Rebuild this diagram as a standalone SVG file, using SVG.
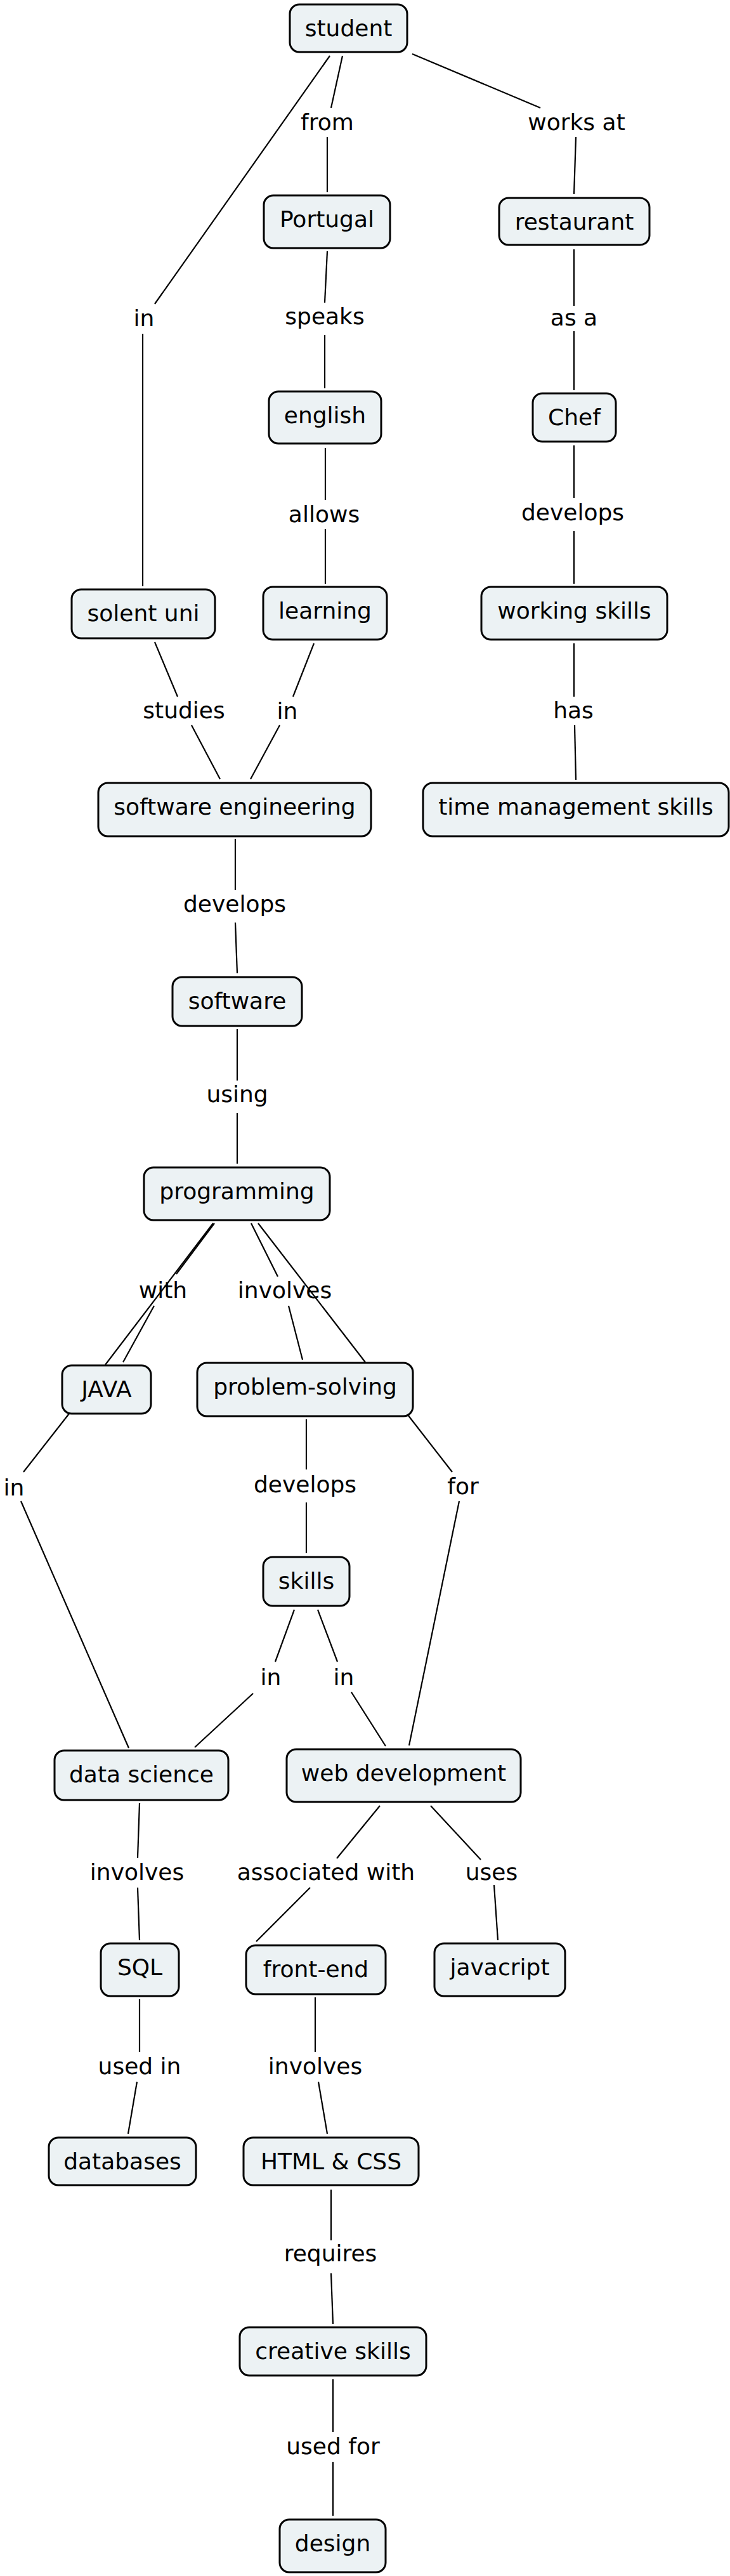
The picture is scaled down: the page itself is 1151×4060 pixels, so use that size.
<svg xmlns="http://www.w3.org/2000/svg" width="1151" height="4060" viewBox="0 0 1151 4060">
<style>
.n rect{fill:#ecf2f4;stroke:#000;stroke-width:3}
text{font-family:"DejaVu Sans","Verdana",sans-serif;font-size:36px;fill:#000;text-anchor:middle}
#connectors line{stroke:#000;stroke-width:2.2;fill:none}
</style>
<rect width="1151" height="4060" fill="#fff"/>
<g id="connectors">
<line x1="540" y1="88" x2="522" y2="170"/>
<line x1="516" y1="216" x2="516" y2="303"/>
<line x1="650" y1="85" x2="852" y2="170"/>
<line x1="908" y1="216" x2="905" y2="306"/>
<line x1="520" y1="88" x2="244" y2="479"/>
<line x1="225" y1="526" x2="225" y2="924"/>
<line x1="516" y1="396" x2="512" y2="477"/>
<line x1="512" y1="528" x2="512" y2="612"/>
<line x1="905" y1="393" x2="905" y2="482"/>
<line x1="905" y1="522" x2="905" y2="615"/>
<line x1="513" y1="706" x2="513" y2="788"/>
<line x1="513" y1="834" x2="513" y2="920"/>
<line x1="905" y1="702" x2="905" y2="785"/>
<line x1="905" y1="837" x2="905" y2="920"/>
<line x1="244" y1="1012" x2="280" y2="1098"/>
<line x1="302" y1="1143" x2="347" y2="1228"/>
<line x1="495" y1="1014" x2="462" y2="1098"/>
<line x1="441" y1="1143" x2="395" y2="1228"/>
<line x1="905" y1="1014" x2="905" y2="1098"/>
<line x1="906" y1="1143" x2="908" y2="1229"/>
<line x1="371" y1="1322" x2="371" y2="1403"/>
<line x1="371" y1="1454" x2="374" y2="1534"/>
<line x1="374" y1="1622" x2="374" y2="1703"/>
<line x1="374" y1="1754" x2="374" y2="1834"/>
<line x1="338" y1="1928" x2="278" y2="2008"/>
<line x1="336" y1="1928" x2="166" y2="2151"/>
<line x1="243" y1="2058" x2="194" y2="2147"/>
<line x1="396" y1="1928" x2="438" y2="2012"/>
<line x1="455" y1="2058" x2="477" y2="2143"/>
<line x1="407" y1="1928" x2="576" y2="2147"/>
<line x1="109" y1="2228" x2="37" y2="2320"/>
<line x1="33" y1="2366" x2="203" y2="2755"/>
<line x1="483" y1="2237" x2="483" y2="2316"/>
<line x1="483" y1="2368" x2="483" y2="2448"/>
<line x1="643" y1="2230" x2="713" y2="2320"/>
<line x1="724" y1="2366" x2="645" y2="2751"/>
<line x1="464" y1="2537" x2="434" y2="2619"/>
<line x1="399" y1="2669" x2="307" y2="2754"/>
<line x1="501" y1="2537" x2="532" y2="2619"/>
<line x1="554" y1="2667" x2="608" y2="2752"/>
<line x1="220" y1="2842" x2="217" y2="2928"/>
<line x1="217" y1="2975" x2="220" y2="3058"/>
<line x1="599" y1="2846" x2="531" y2="2929"/>
<line x1="489" y1="2975" x2="404" y2="3060"/>
<line x1="679" y1="2846" x2="758" y2="2931"/>
<line x1="779" y1="2971" x2="785" y2="3058"/>
<line x1="220" y1="3151" x2="220" y2="3234"/>
<line x1="216" y1="3281" x2="202" y2="3363"/>
<line x1="497" y1="3148" x2="497" y2="3234"/>
<line x1="502" y1="3281" x2="516" y2="3363"/>
<line x1="522" y1="3451" x2="522" y2="3531"/>
<line x1="522" y1="3583" x2="525" y2="3663"/>
<line x1="525" y1="3750" x2="525" y2="3833"/>
<line x1="525" y1="3880" x2="525" y2="3965"/>
</g>
<g id="labels">
<text x="516" y="205">from</text>
<text x="909" y="205">works at</text>
<text x="227" y="514">in</text>
<text x="512" y="511">speaks</text>
<text x="905" y="513">as a</text>
<text x="511" y="823">allows</text>
<text x="903" y="820">develops</text>
<text x="290" y="1132">studies</text>
<text x="453" y="1133">in</text>
<text x="904" y="1132">has</text>
<text x="370" y="1437">develops</text>
<text x="374" y="1737">using</text>
<text x="257" y="2046">with</text>
<text x="449" y="2046">involves</text>
<text x="22" y="2357">in</text>
<text x="481" y="2352">develops</text>
<text x="730" y="2355">for</text>
<text x="427" y="2656">in</text>
<text x="542" y="2656">in</text>
<text x="216" y="2963">involves</text>
<text x="514" y="2963">associated with</text>
<text x="775" y="2963">uses</text>
<text x="220" y="3269">used in</text>
<text x="497" y="3269">involves</text>
<text x="521" y="3564">requires</text>
<text x="525" y="3868">used for</text>
</g>
<g id="student" class="n"><rect x="457" y="7" width="185" height="75" rx="15"/><text x="549.5" y="57">student</text></g>
<g id="portugal" class="n"><rect x="416" y="308" width="199" height="83" rx="15"/><text x="515.5" y="358">Portugal</text></g>
<g id="restaurant" class="n"><rect x="787" y="312" width="237" height="74" rx="15"/><text x="905.5" y="362">restaurant</text></g>
<g id="english" class="n"><rect x="424" y="617" width="177" height="82" rx="15"/><text x="512.5" y="667">english</text></g>
<g id="chef" class="n"><rect x="840" y="620" width="131" height="76" rx="15"/><text x="905.5" y="670">Chef</text></g>
<g id="solent-uni" class="n"><rect x="113" y="929" width="226" height="77" rx="15"/><text x="226" y="979">solent uni</text></g>
<g id="learning" class="n"><rect x="415" y="925" width="195" height="83" rx="15"/><text x="512.5" y="975">learning</text></g>
<g id="working-skills" class="n"><rect x="759" y="925" width="293" height="83" rx="15"/><text x="905.5" y="975">working skills</text></g>
<g id="software-engineering" class="n"><rect x="155" y="1234" width="430" height="84" rx="15"/><text x="370" y="1284">software engineering</text></g>
<g id="time-management-skills" class="n"><rect x="667" y="1234" width="482" height="84" rx="15"/><text x="908" y="1284">time management skills</text></g>
<g id="software" class="n"><rect x="272" y="1540" width="204" height="77" rx="15"/><text x="374" y="1590">software</text></g>
<g id="programming" class="n"><rect x="227" y="1840" width="293" height="83" rx="15"/><text x="373.5" y="1890">programming</text></g>
<g id="java" class="n"><rect x="98" y="2152" width="140" height="76" rx="15"/><text x="168" y="2202">JAVA</text></g>
<g id="problem-solving" class="n"><rect x="311" y="2148" width="340" height="84" rx="15"/><text x="481" y="2198">problem-solving</text></g>
<g id="skills" class="n"><rect x="415" y="2454" width="136" height="77" rx="15"/><text x="483" y="2504">skills</text></g>
<g id="data-science" class="n"><rect x="86" y="2759" width="274" height="78" rx="15"/><text x="223" y="2809">data science</text></g>
<g id="web-development" class="n"><rect x="452" y="2757" width="369" height="83" rx="15"/><text x="636.5" y="2807">web development</text></g>
<g id="sql" class="n"><rect x="159" y="3063" width="123" height="83" rx="15"/><text x="220.5" y="3113">SQL</text></g>
<g id="front-end" class="n"><rect x="388" y="3066" width="220" height="77" rx="15"/><text x="498" y="3116">front-end</text></g>
<g id="javacript" class="n"><rect x="685" y="3063" width="206" height="83" rx="15"/><text x="788" y="3113">javacript</text></g>
<g id="databases" class="n"><rect x="77" y="3369" width="232" height="75" rx="15"/><text x="193" y="3419">databases</text></g>
<g id="html-css" class="n"><rect x="384" y="3369" width="276" height="75" rx="15"/><text x="522" y="3419">HTML &amp; CSS</text></g>
<g id="creative-skills" class="n"><rect x="378" y="3668" width="294" height="76" rx="15"/><text x="525" y="3718">creative skills</text></g>
<g id="design" class="n"><rect x="441" y="3971" width="167" height="83" rx="15"/><text x="524.5" y="4021">design</text></g>
</svg>
